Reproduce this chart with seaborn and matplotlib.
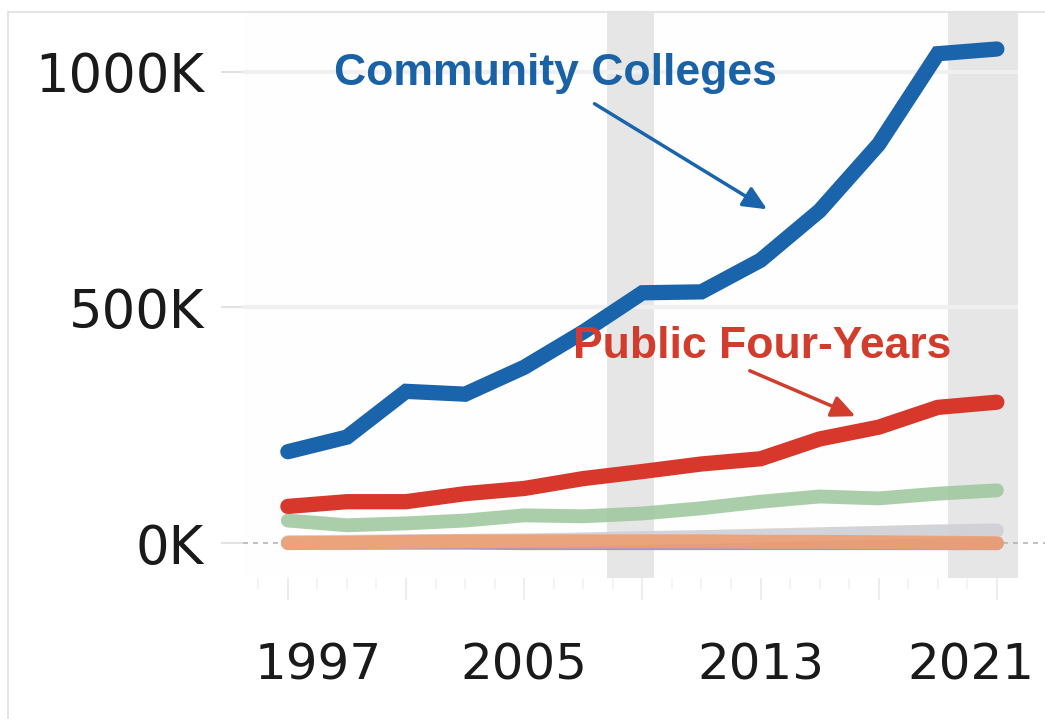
import matplotlib
matplotlib.use('Agg')
import matplotlib.pyplot as plt
import matplotlib.transforms as mtransforms
import seaborn as sns
import pandas as pd
from matplotlib.ticker import FuncFormatter, MultipleLocator

# enrollment in thousands, every other year
years = [1997, 1999, 2001, 2003, 2005, 2007, 2009, 2011, 2013, 2015, 2017, 2019, 2021]
community = [194, 225, 322, 316, 373, 448, 531, 533, 600, 705, 846, 1038, 1048]
public_four = [78, 88, 88, 105, 116, 137, 152, 168, 179, 221, 246, 288, 299]
green_series = [48, 38, 42, 48, 59, 57, 63, 74, 88, 99, 95, 105, 112]
grey_series = [2, 3, 4, 5, 6, 8, 11, 13, 16, 19, 22, 25, 27]
orange_series = [0, 1, 3, 4, 4, 4, 4, 4, 3, 3, 2, 1, 0]
purple_series = [1, 1, 1, 1, 0, 0, 0, 0, 0, 0, 0, 0, 0]

recessions = [(2007.8, 2009.4), (2019.35, 2021.8)]
x_labels = [1997, 2005, 2013, 2021]

df = pd.DataFrame({'year': years, 'community': community, 'public_four': public_four,
                   'green': green_series, 'grey': grey_series,
                   'orange': orange_series, 'purple': purple_series})

sns.set_theme(style='white')
plt.rcParams['font.family'] = ['DejaVu Sans']

fig, ax = plt.subplots(figsize=(10.45, 7.19), dpi=100)
fig.subplots_adjust(left=0.2325, right=0.974, bottom=0.196, top=0.983)
ax.set_facecolor('#fefefe')

# faint frame around the picture
fig.add_artist(plt.Rectangle((8 / 1045, -0.05), 1.1, 1 - 12 / 719 + 0.05,
                             transform=fig.transFigure, fill=False,
                             edgecolor='#e4e4e4', lw=1.5))

for a, b in recessions:
    ax.axvspan(a, b, color='#e6e6e6', zorder=0.3, lw=0)

# series: (column, colour, width, alpha)
styles = [('purple', '#9a8ccc', 10, 0.9),
          ('grey', '#cfcfd6', 10, 0.9),
          ('orange', '#ee9f70', 10, 0.9),
          ('green', '#9cc69c', 10, 0.85),
          ('public_four', '#d7382b', 11, 1.0),
          ('community', '#1a64ac', 11, 1.0)]
for col, color, lw, alpha in styles:
    sns.lineplot(data=df, x='year', y=col, ax=ax, color=color, lw=lw, alpha=alpha,
                 solid_capstyle='round', solid_joinstyle='miter', zorder=3)

ax.set_xlim(1995.48, 2021.71)
ax.set_ylim(-74, 1126)
ax.set_xlabel('')
ax.set_ylabel('')

ax.set_yticks([0, 500, 1000])
ax.yaxis.set_major_formatter(FuncFormatter(lambda v, p: f'{v:.0f}K'))
ax.yaxis.grid(True, color='#f0f0f0', lw=3)
ax.get_ygridlines()[0].set_visible(False)
ax.set_axisbelow(True)

ax.set_xticks(range(1997, 2022, 4))
ax.set_xticklabels([str(y) if y in x_labels else '' for y in range(1997, 2022, 4)])
ax.xaxis.set_minor_locator(MultipleLocator(1))

ax.tick_params(axis='y', length=16, width=1.5, color='#e2e2e2', pad=12,
               labelsize=38, labelcolor='#1a1a1a', left=True)
ax.tick_params(axis='x', which='major', length=16, width=1.5, color='#ededed', pad=30,
               labelsize=36, labelcolor='#1a1a1a', bottom=True, direction='out')
ax.tick_params(axis='x', which='minor', length=8, width=1.2, color='#f2f2f2', bottom=True)
for s in ax.spines.values():
    s.set_visible(False)

# nudge the outer year labels inward like the reference
shifts = {'1997': 30, '2021': -26}
for lab in ax.get_xticklabels():
    dx = shifts.get(lab.get_text(), 0)
    if dx:
        lab.set_transform(lab.get_transform() +
                          mtransforms.ScaledTranslation(dx / 100, 0, fig.dpi_scale_trans))

# dashed zero line running past the panel
ax.plot([0, 1.06], [0, 0], transform=ax.get_yaxis_transform(), color='#b5b5b5',
        lw=1.2, ls=(0, (3, 3)), clip_on=False, zorder=2)

ax.annotate('', xy=(2013.3, 705), xytext=(2007.3, 935),
            arrowprops=dict(arrowstyle='-|>,head_length=1.2,head_width=0.55',
                            color='#1a64ac', lw=2.5), zorder=5)
ax.text(2006.05, 996, 'Community Colleges', color='#1a62a6', fontsize=32,
        fontweight='bold', family=['Liberation Sans', 'DejaVu Sans'],
        ha='center', va='center', zorder=6)

ax.annotate('', xy=(2016.3, 267), xytext=(2012.55, 368),
            arrowprops=dict(arrowstyle='-|>,head_length=1.2,head_width=0.55',
                            color='#d23c2c', lw=2.5), zorder=5)
ax.text(2013.05, 417, 'Public Four-Years', color='#d23c2c', fontsize=32,
        fontweight='bold', family=['Liberation Sans', 'DejaVu Sans'],
        ha='center', va='center', zorder=6)

plt.savefig('out.png', dpi=100, facecolor='white')
plt.close()
